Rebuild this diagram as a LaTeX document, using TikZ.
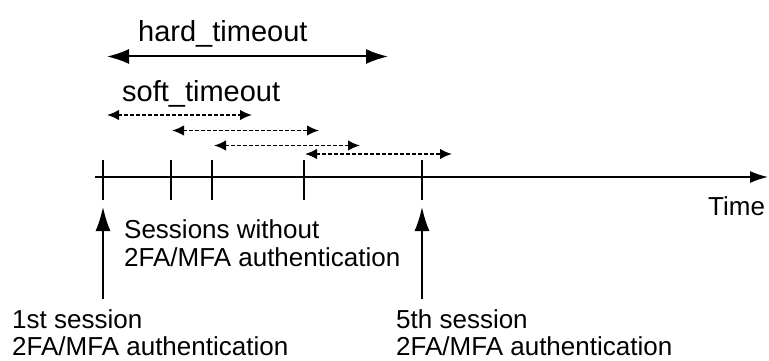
\documentclass[tikz,border=0pt]{standalone}
\usepackage{fontspec}
\setmainfont{Liberation Sans}
\usetikzlibrary{arrows.meta}
\begin{document}
\begin{tikzpicture}[x=1pt,y=-1pt,
  lbl/.style={anchor=base west,inner sep=0pt,font=\fontsize{26}{28}\selectfont},
  toplbl/.style={anchor=base west,inner sep=0pt,font=\fontsize{29}{31}\selectfont},
  axisline/.style={line width=1.6pt,-{Latex[length=18pt,width=12pt]}},
  tickline/.style={line width=1.6pt},
  sessarrow/.style={line width=1.6pt,-{Latex[length=24pt,width=15pt]}},
  hardarrow/.style={line width=2pt,{Latex[length=22pt,width=15pt]}-{Latex[length=22pt,width=15pt]}},
  softarrow/.style={line width=1.6pt,dash pattern=on 3.5pt off 2.5pt,{Latex[length=12pt,width=10.5pt]}-{Latex[length=12pt,width=10.5pt]}}]
\useasboundingbox (0,0) rectangle (769,361);
% axis
\coordinate (a0) at (95,177);
\coordinate (a1) at (768,177);
\draw[axisline] (a0) -- (a1);
% ticks
\foreach \n/\x in {1/103,2/171,3/212,4/304,5/422}{
  \coordinate (t\n top) at (\x,160);
  \coordinate (t\n bot) at (\x,200);
  \draw[tickline] (t\n top) -- (t\n bot);
}
% session arrows
\coordinate (s1a) at (103,299);
\coordinate (s1b) at (103,207);
\coordinate (s5a) at (422,299);
\coordinate (s5b) at (422,207);
\draw[sessarrow] (s1a) -- (s1b);
\draw[sessarrow] (s5a) -- (s5b);
% hard timeout
\coordinate (h0) at (107,56.5);
\coordinate (h1) at (388,56.5);
\draw[hardarrow] (h0) -- (h1);
% soft timeouts
\coordinate (p1a) at (107,115);   \coordinate (p1b) at (252,115);
\coordinate (p2a) at (172,130.5); \coordinate (p2b) at (319,130.5);
\coordinate (p3a) at (214,145.5); \coordinate (p3b) at (360,145.5);
\coordinate (p4a) at (305,154);   \coordinate (p4b) at (452,154);
\draw[softarrow] (p1a) -- (p1b);
\draw[softarrow] (p2a) -- (p2b);
\draw[softarrow] (p3a) -- (p3b);
\draw[softarrow] (p4a) -- (p4b);
% labels
\node[toplbl] (hard) at (138,42) {hard\_timeout};
\node[toplbl] (soft) at (122,102) {soft\_timeout};
\node[lbl] (time) at (708,215) {Time};
\node[lbl] (sw1) at (124,238) {Sessions without};
\node[lbl] (sw2) at (124,266.5) {2FA/MFA authentication};
\node[lbl] (f1) at (12,328.5) {1st session};
\node[lbl] (f2) at (12,355.5) {2FA/MFA authentication};
\node[lbl] (v1) at (396,328.5) {5th session};
\node[lbl] (v2) at (396,355.5) {2FA/MFA authentication};
\end{tikzpicture}
\end{document}
